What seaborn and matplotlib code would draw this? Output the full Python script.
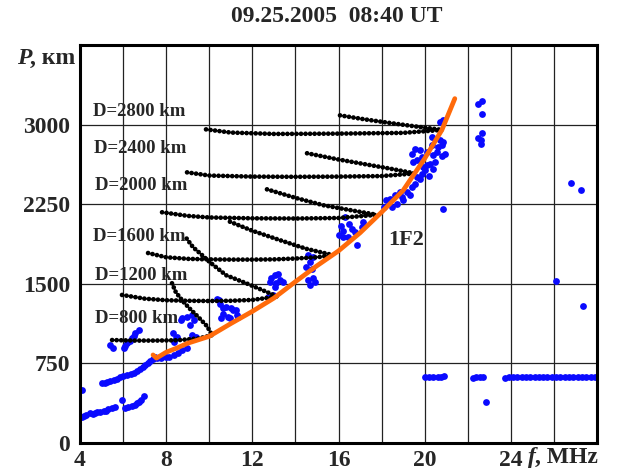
import numpy as np
import pandas as pd
import matplotlib
matplotlib.use("Agg")
import matplotlib.pyplot as plt
import seaborn as sns

# ── data ──────────────────────────────────────────────────────────────────────
# 1F2 trace (orange)
f2_f = [7.39, 7.55, 8.0, 8.5, 9.0, 10.0, 11.0, 12.0, 13.0, 14.0, 15.0, 16.0, 17.0, 18.0, 19.0, 20.0, 20.8, 21.4]
f2_p = [830, 800, 855, 895, 940, 1005, 1125, 1240, 1365, 1520, 1670, 1810, 1980, 2175, 2380, 2680, 2950, 3245]

# D = const curves (black dots), lower and upper branch each
d800_lo_f = [5.49, 6.5, 7.5, 8.5, 9.5, 10.13]
d800_lo_p = [970, 965, 965, 968, 985, 1016]
d800_up_f = [8.27, 8.45, 8.8, 9.1, 9.5, 9.9, 10.13]
d800_up_p = [1505, 1420, 1330, 1265, 1185, 1100, 1016]

d1200_lo_f = [5.95, 7.0, 8.0, 9.0, 10.0, 11.0, 12.0, 13.15]
d1200_lo_p = [1395, 1360, 1345, 1340, 1338, 1340, 1348, 1380]
d1200_up_f = [8.95, 9.25, 9.57, 10.03, 10.78, 11.74, 12.66, 13.15]
d1200_up_p = [1926, 1844, 1788, 1703, 1581, 1503, 1424, 1380]

d1600_lo_f = [7.16, 8.0, 9.0, 10.0, 11.0, 12.0, 13.0, 14.0, 15.0, 15.75]
d1600_lo_p = [1790, 1750, 1735, 1730, 1728, 1728, 1730, 1738, 1750, 1770]
d1600_up_f = [10.96, 12.0, 13.3, 14.5, 15.75]
d1600_up_p = [2085, 2000, 1910, 1830, 1770]

d2000_lo_f = [7.81, 9.0, 10.0, 12.0, 14.0, 16.0, 17.79]
d2000_lo_p = [2174, 2140, 2125, 2117, 2115, 2120, 2150]
d2000_up_f = [12.68, 14.0, 15.3, 16.8, 17.79]
d2000_up_p = [2390, 2310, 2240, 2185, 2150]

d2400_lo_f = [8.97, 10.0, 12.0, 14.0, 16.0, 18.0, 19.55]
d2400_lo_p = [2550, 2520, 2510, 2508, 2510, 2515, 2540]
d2400_up_f = [14.54, 15.9, 17.0, 18.4, 19.55]
d2400_up_p = [2730, 2675, 2635, 2585, 2540]

d2800_lo_f = [9.85, 11.0, 13.0, 16.0, 19.0, 20.81]
d2800_lo_p = [2955, 2925, 2912, 2915, 2922, 2950]
d2800_up_f = [16.07, 17.2, 18.4, 19.6, 20.81]
d2800_up_p = [3087, 3050, 3015, 2982, 2950]

# observed echoes (blue)
echo_f = [
    # low trace
    4.08, 4.2, 4.3, 4.47, 4.6, 4.7, 4.8, 4.93, 5.1, 5.2, 5.32, 5.5, 5.64, 5.95, 6.1, 6.25, 6.41, 6.55, 6.64, 6.75, 6.85, 6.96,
    4.08,
    # middle trace
    5.01, 5.15, 5.25, 5.4, 5.56, 5.7, 5.87, 6.0, 6.18, 6.35, 6.49, 6.65, 6.8, 6.92, 7.04, 7.15, 7.27, 7.4, 7.5,
    # upper-left trace
    5.4, 5.54, 6.02, 6.1, 6.18, 6.3, 6.41, 6.5, 6.57, 6.73,
    # under the 1F2 start
    7.58, 7.75, 7.97, 8.15, 8.36, 8.55, 8.75, 8.98,
    # near D=800
    8.3, 8.45, 8.38, 8.52, 8.67, 8.72, 8.98, 9.1, 9.21, 9.3, 9.21, 9.37,
    # cluster ~11 MHz
    10.35, 10.5, 10.8, 11.1, 10.65, 10.96, 11.27, 10.46, 10.62, 11.01, 11.24, 10.54, 10.85, 11.32,
    # cluster ~13 MHz
    12.88, 13.03, 13.19, 13.27, 13.42, 13.11, 12.72, 12.96, 12.82, 13.05,
    # cluster ~14.6 MHz
    14.59, 14.82, 14.67, 14.51, 14.75, 14.59, 14.82, 14.9, 14.67,
    # cluster ~16.5 MHz
    16.3, 16.12, 16.02, 16.22, 16.46, 16.62, 16.77, 16.85, 17.16, 17.08, 16.2, 16.5,
    # cluster 18-21 MHz
    18.1, 18.2, 18.39, 18.62, 18.86, 18.47, 18.7, 18.93, 19.17, 19.4, 19.55, 19.63, 19.78, 19.86, 20.02, 20.1,
    20.25, 20.4, 19.4, 19.55, 19.78, 19.47, 19.63, 19.86, 20.1, 20.33, 20.4, 20.56, 20.63, 20.79, 20.71,
    20.87, 20.95, 20.71, 20.33, 20.87, 20.87,
    19.0, 19.3, 19.9, 20.2, 20.5, 20.8,
    # right side
    22.49, 22.65, 22.68, 22.65, 22.49, 22.6, 22.62, 26.78, 27.26, 26.08, 27.37, 22.85,
    # ~620 km trace
    20.02, 20.2, 20.4, 20.6, 20.75, 20.9,
    22.23, 22.4, 22.55, 22.7,
    23.73, 23.9, 24.1, 24.3, 24.5, 24.7, 24.9, 25.1, 25.3, 25.5, 25.7, 25.9, 26.1, 26.3, 26.5, 26.7, 26.9,
    27.1, 27.3, 27.5, 27.7, 27.9,
]
echo_p = [
    248, 255, 262, 279, 272, 285, 290, 295, 300, 305, 317, 330, 336, 405, 326, 335, 348, 360, 373, 390, 405, 442,
    499,
    561, 570, 577, 585, 593, 605, 618, 630, 640, 650, 662, 675, 693, 712, 734, 752, 774, 795, 812,
    922, 894, 891, 912, 938, 960, 985, 1008, 1032, 1063,
    797, 800, 806, 815, 828, 850, 875, 891,
    1035, 990, 955, 1000, 1157, 1174, 1189, 1110, 1205, 1157, 1016, 1000,
    1361, 1314, 1283, 1252, 1220, 1174, 1205, 1346, 1268, 1268, 1252, 1174, 1189, 1189,
    1550, 1581, 1597, 1534, 1518, 1503, 1377, 1393, 1518, 1471,
    1769, 1753, 1706, 1659, 1644, 1534, 1550, 1518, 1487,
    2130, 2042, 1957, 1941, 1941, 2020, 1988, 1863, 2082, 2035, 2000, 2060,
    2225, 2287, 2303, 2334, 2365, 2224, 2255, 2318, 2365, 2412, 2444, 2506, 2491, 2538, 2569, 2616,
    2632, 2585, 2726, 2773, 2757, 2647, 2663, 2694, 2741, 2804, 2710, 2741, 2788, 2804, 2851,
    2835, 2726, 3023, 2882, 3039, 2208,
    2290, 2340, 2600, 2520, 2650, 2700,
    3196, 3227, 3102, 2921, 2876, 2851, 2813, 2450, 2388, 1525, 1290, 389,
    618, 618, 620, 620, 624, 627,
    616, 618, 620, 624,
    616, 618, 618, 620, 622, 624, 624, 622, 620, 620, 620, 620, 620, 622, 620, 618, 620,
    622, 620, 618, 618, 620,
]

d_labels = ["D=2800 km", "D=2400 km", "D=2000 km", "D=1600 km", "D=1200 km", "D=800 km"]
d_label_f = [4.59, 4.65, 4.70, 4.59, 4.70, 4.70]
d_label_p = [3124, 2779, 2428, 1948, 1581, 1176]

x_ticks = [4, 8, 12, 16, 20, 24]
y_ticks = [0, 750, 1500, 2250, 3000]

# ── figure ────────────────────────────────────────────────────────────────────
sns.set_theme(style="white")
plt.rcParams["font.family"] = ["Liberation Serif", "DejaVu Serif"]
plt.rcParams["font.weight"] = "bold"

fig = plt.figure(figsize=(6.3, 4.73), dpi=100)
ax = fig.add_axes([80 / 630, 30 / 473, 517 / 630, 398 / 473])

# grid
for gx in range(6, 28, 2):
    ax.axvline(gx, color="#222222", lw=0.9, zorder=0)
for gy in y_ticks[1:]:
    ax.axhline(gy, color="#222222", lw=0.9, zorder=0)

echoes = pd.DataFrame({"f": echo_f, "P": echo_p})
sns.scatterplot(data=echoes, x="f", y="P", color="#0a0aff", s=24, linewidth=0,
                ax=ax, zorder=2, legend=False)

branches = [
    (d800_lo_f, d800_lo_p), (d800_up_f, d800_up_p),
    (d1200_lo_f, d1200_lo_p), (d1200_up_f, d1200_up_p),
    (d1600_lo_f, d1600_lo_p), (d1600_up_f, d1600_up_p),
    (d2000_lo_f, d2000_lo_p), (d2000_up_f, d2000_up_p),
    (d2400_lo_f, d2400_lo_p), (d2400_up_f, d2400_up_p),
    (d2800_lo_f, d2800_lo_p), (d2800_up_f, d2800_up_p),
]
for bf, bp in branches:
    sns.lineplot(x=bf, y=bp, sort=False, estimator=None, ax=ax, color="black",
                 lw=3.4, linestyle=(0, (0.01, 0.95)), dash_capstyle="round", zorder=3)

sns.lineplot(x=f2_f, y=f2_p, sort=False, estimator=None, ax=ax,
             color="#ff6a0a", lw=3.4, solid_capstyle="round", zorder=4)

for lab, lf, lp in zip(d_labels, d_label_f, d_label_p):
    ax.text(lf, lp, lab, fontsize=13.5, fontweight="bold", ha="left", va="center", zorder=5)
ax.text(19.13, 1908, "1F2", fontsize=16, fontweight="bold", ha="center", va="center", zorder=5)

ax.set_xlim(4, 28)
ax.set_ylim(0, 3750)
ax.set_xticks(x_ticks)
ax.set_yticks(y_ticks)
ax.tick_params(axis="both", length=0, labelsize=17)
ax.tick_params(axis="x", pad=5)
ax.tick_params(axis="y", pad=7)
for lbl in ax.get_xticklabels() + ax.get_yticklabels():
    lbl.set_fontweight("bold")
ax.set_xlabel("")
ax.set_ylabel("")
for sp in ax.spines.values():
    sp.set_color("black")
    sp.set_linewidth(2.2)

fig.text(337 / 630, 1 - 17 / 473, "09.25.2005  08:40 UT", fontsize=17, fontweight="bold",
         ha="center", va="center")
fig.text(31 / 630, 1 - 58 / 473, "P", fontsize=17, fontweight="bold", style="italic",
         ha="right", va="center")
fig.text(30 / 630, 1 - 58 / 473, ", кm", fontsize=17, fontweight="bold", ha="left", va="center")
fig.text(536 / 630, 1 - 457 / 473, "f", fontsize=17, fontweight="bold", style="italic",
         ha="right", va="center")
fig.text(535 / 630, 1 - 457 / 473, ", MHz", fontsize=17, fontweight="bold", ha="left", va="center")

plt.savefig("out.png", dpi=100)
